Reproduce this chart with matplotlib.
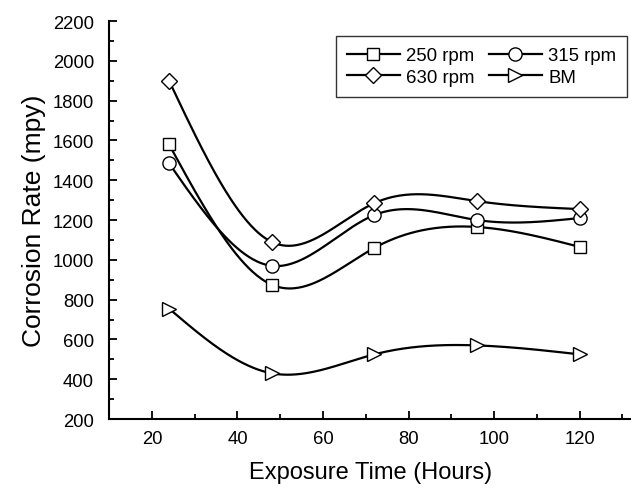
import numpy as np
import matplotlib.pyplot as plt
from matplotlib.lines import Line2D

plt.rcParams['font.family'] = ['Liberation Sans', 'DejaVu Sans']

# Data
hours = [24, 48, 72, 96, 120]
rpm250 = [1580, 875, 1060, 1165, 1065]
rpm315 = [1485, 970, 1225, 1200, 1210]
rpm630 = [1900, 1090, 1285, 1295, 1255]
bm = [755, 430, 525, 570, 525]


# natural cubic spline, just for the smooth look of the lines
def spline(x, y, n=300):
    x = np.asarray(x, float)
    y = np.asarray(y, float)
    k = len(x)
    h = np.diff(x)
    A = np.zeros((k, k))
    r = np.zeros(k)
    A[0, 0] = A[-1, -1] = 1
    for i in range(1, k - 1):
        A[i, i - 1] = h[i - 1]
        A[i, i] = 2 * (h[i - 1] + h[i])
        A[i, i + 1] = h[i]
        r[i] = 6 * ((y[i + 1] - y[i]) / h[i] - (y[i] - y[i - 1]) / h[i - 1])
    M = np.linalg.solve(A, r)
    xs = np.linspace(x[0], x[-1], n)
    idx = np.clip(np.searchsorted(x, xs) - 1, 0, k - 2)
    x0, x1 = x[idx], x[idx + 1]
    hh = x1 - x0
    a = (x1 - xs) / hh
    b = (xs - x0) / hh
    ys = (a * y[idx] + b * y[idx + 1]
          + ((a ** 3 - a) * M[idx] + (b ** 3 - b) * M[idx + 1]) * hh ** 2 / 6)
    return xs, ys


fig = plt.figure(figsize=(6.31, 4.89), dpi=100)
ax = fig.add_axes([0.173, 0.141, 0.827, 0.814])

series = [(rpm250, 's', '250 rpm'), (rpm315, 'o', '315 rpm'),
          (rpm630, 'D', '630 rpm'), (bm, '>', 'BM')]
sizes = {'s': 8.8, 'o': 9.5, 'D': 8.5, '>': 10}
handles = {}
for vals, mk, lab in series:
    xs, ys = spline(hours, vals)
    ax.plot(xs, ys, color='black', linewidth=1.6, zorder=2)
    ax.plot(hours, vals, linestyle='none', marker=mk, markersize=sizes[mk],
            markerfacecolor='white', markeredgecolor='black',
            markeredgewidth=1.0, zorder=3)
    handles[lab] = Line2D([], [], color='black', linewidth=1.6, marker=mk,
                          markersize=sizes[mk], markerfacecolor='white',
                          markeredgecolor='black', markeredgewidth=1.0)

order = ['250 rpm', '630 rpm', '315 rpm', 'BM']
leg = ax.legend([handles[k] for k in order], order, ncol=2, loc='upper right',
                bbox_to_anchor=(0.993, 0.962), fontsize=13.4, frameon=True,
                fancybox=False, edgecolor='black', handlelength=2.8,
                handletextpad=0.35, columnspacing=0.8, borderpad=0.6,
                labelspacing=0.25, borderaxespad=0)
leg.get_frame().set_linewidth(1.0)

ax.set_xlim(10, 132)
ax.set_ylim(200, 2200)
ax.set_xticks([20, 40, 60, 80, 100, 120])
ax.set_xticks(np.arange(30, 131, 20), minor=True)
ax.set_yticks(np.arange(200, 2201, 200))
ax.set_yticks(np.arange(300, 2200, 200), minor=True)
ax.tick_params(direction='in', which='major', length=5.5, width=1.3, labelsize=13.3)
ax.tick_params(direction='in', which='minor', length=3.5, width=1.3)
ax.tick_params(axis='x', which='major', pad=7.8)
ax.tick_params(axis='y', which='major', pad=11)
ax.spines['top'].set_visible(False)
ax.spines['right'].set_visible(False)
ax.spines['left'].set_linewidth(1.5)
ax.spines['bottom'].set_linewidth(1.5)

ax.set_xlabel('Exposure Time (Hours)', fontsize=17, labelpad=10)
ax.set_ylabel('Corrosion Rate (mpy)', fontsize=19, labelpad=5)

fig.savefig('out.png', dpi=100)
